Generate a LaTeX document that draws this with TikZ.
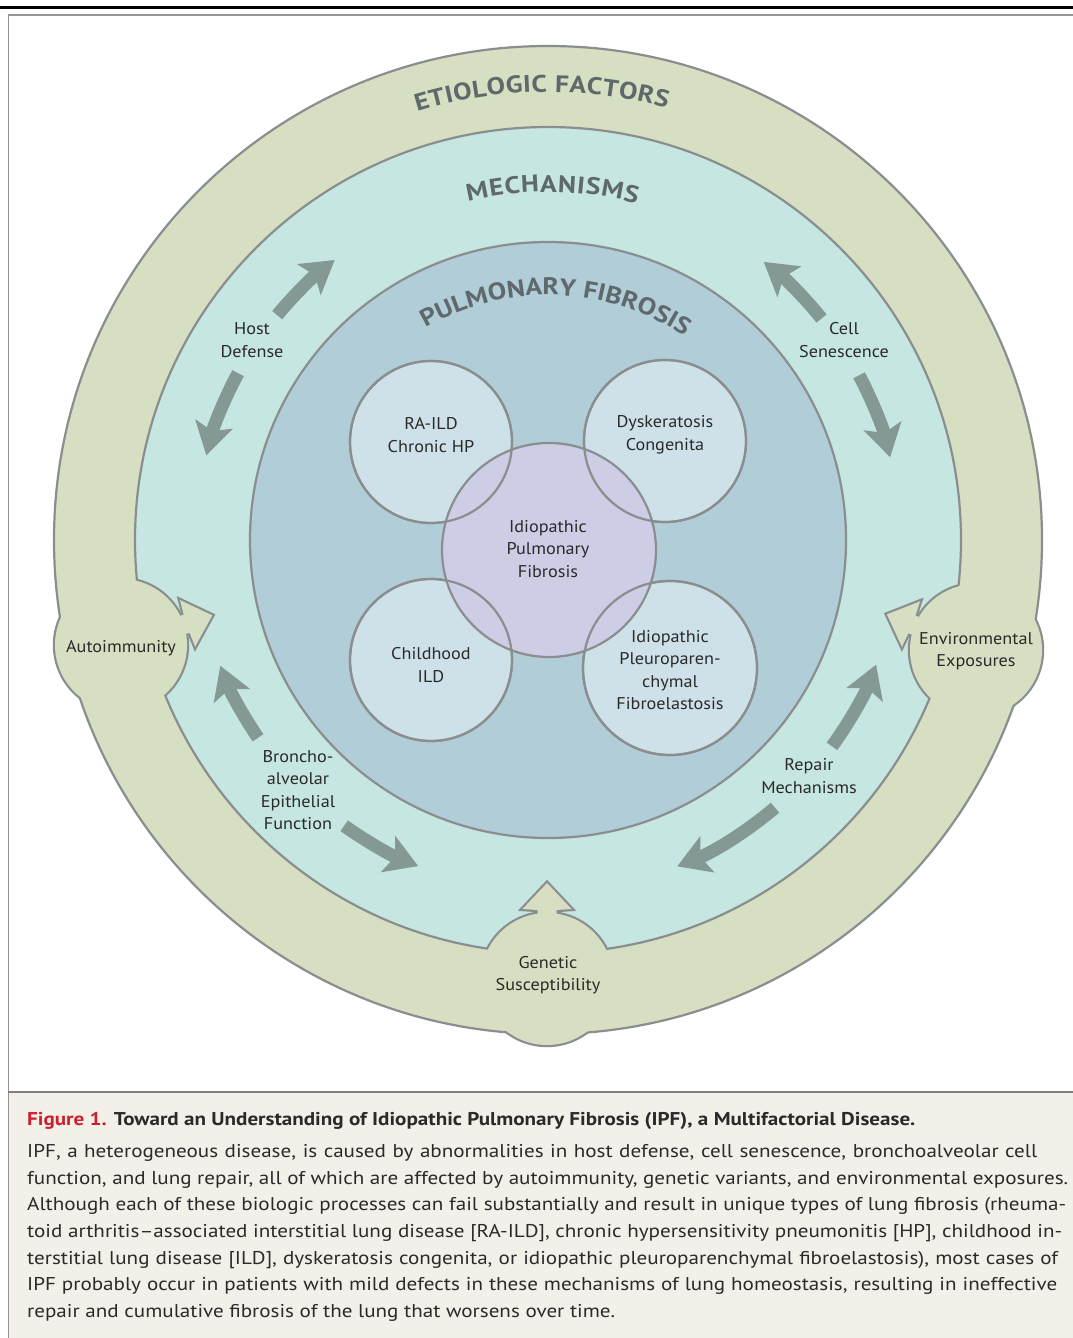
\documentclass[tikz,border=0pt]{standalone}
\usepackage{fontspec}
\setmainfont[FakeStretch=1.07]{PT Sans}
\newfontfamily\capfont[FakeStretch=1.14,Ligatures=TeX]{PT Sans}
\newfontfamily\hfam[FakeStretch=1.15]{PT Sans}
\usetikzlibrary{arrows.meta,decorations.text}
\definecolor{ringG}{HTML}{D6DFC1}
\definecolor{mechT}{HTML}{C6E6E1}
\definecolor{pfB}{HTML}{B1CDD8}
\definecolor{smallC}{HTML}{CFE1E8}
\definecolor{ipfC}{HTML}{CECDE6}
\definecolor{bordC}{HTML}{8A8E8F}
\definecolor{arrC}{HTML}{849994}
\definecolor{headC}{HTML}{5F696C}
\definecolor{txtC}{HTML}{2A2A2A}
\definecolor{capBG}{HTML}{F3F0E9}
\definecolor{figRed}{HTML}{CF1F2E}
\newcommand\headfont{\hfam\fontsize{24}{24}\selectfont\bfseries}
\newcommand\onebump[3]{%
  \begin{scope}[shift={(#1,#2)},rotate=#3]
    \path[bumpsty] (0,0) circle[radius=66pt];
    \path[bumpsty] (0,9.5) -- (69,9.5) -- (70,24.5) -- (96,0) -- (70,-24.5) -- (69,-9.5) -- (0,-9.5) -- cycle;
  \end{scope}}
\newcommand\allbumps{\onebump{121}{-645}{18}\onebump{976}{-650}{158.2}\onebump{547}{-979}{90}}
\begin{document}
\begin{tikzpicture}[x=1pt,y=1pt,
  lab/.style={font=\fontsize{17}{22.5}\selectfont, text=txtC, align=center, inner sep=0pt},
  curv/.style={line width=13pt, draw=arrC, -{Stealth[length=32pt,width=38pt,inset=7pt]}},
  bordline/.style={draw=bordC, line width=2.2pt},
  capline/.style={anchor=base west, inner sep=0pt, font=\capfont\fontsize{18.5}{26}\selectfont, text=txtC},
  bumpsty/.style={}]
\useasboundingbox (0,0) rectangle (1073,-1338);
\fill[white] (0,0) rectangle (1073,-1338);
\coordinate (C) at (548,-540);
% frame and caption box
\fill[capBG] (9,-1093) rectangle (1073,-1338);
\draw[line width=3pt, black] (0,-8) -- (1073,-8);
\draw[line width=1.6pt, draw=gray!85] (8.5,-1338) -- (8.5,-15) -- (1073,-15);
\draw[line width=2pt, draw=gray] (8,-1092) -- (1073,-1092);
% bumps outer outline
\begin{scope}
  \tikzset{bumpsty/.style={draw=bordC, line width=4.4pt}}
  \allbumps
\end{scope}
% outer ring and mechanisms
\draw[bordline, fill=ringG] (C) circle[radius=494pt];
\draw[bordline, fill=mechT] (C) circle[radius=413pt];
\begin{scope}
  \clip (C) circle[radius=413pt];
  \tikzset{bumpsty/.style={draw=bordC, line width=4.4pt}}
  \allbumps
\end{scope}
\begin{scope}
  \tikzset{bumpsty/.style={fill=ringG}}
  \allbumps
\end{scope}
% pulmonary fibrosis
\draw[bordline, fill=pfB] (C) circle[radius=298pt];
% small circles
\coordinate (ra) at (431,-442);
\coordinate (dk) at (665,-441);
\coordinate (ch) at (431,-660);
\coordinate (pp) at (670,-668);
\coordinate (ipf) at (549,-550);
\foreach \c/\r in {ra/81,dk/81,ch/81,pp/87}
  \draw[bordline, fill=smallC] (\c) circle[radius=\r pt];
\fill[ipfC] (ipf) circle[radius=107pt];
\foreach \c/\r in {ra/81,dk/81,ch/81,pp/87}
  \draw[bordline] (\c) circle[radius=\r pt];
\draw[bordline] (ipf) circle[radius=107pt];
% curved arrows
\draw[curv] ([shift={(140.3:352pt)}]C) arc[start angle=140.3, end angle=127.3, radius=352pt];
\draw[curv] ([shift={(151.7:352pt)}]C) arc[start angle=151.7, end angle=166.1, radius=352pt];
\draw[curv] ([shift={(39:352pt)}]C) arc[start angle=39, end angle=52.2, radius=352pt];
\draw[curv] ([shift={(27.9:352pt)}]C) arc[start angle=27.9, end angle=13.6, radius=352pt];
\draw[curv] ([shift={(214.3:351pt)}]C) arc[start angle=214.3, end angle=201, radius=351pt];
\draw[curv] ([shift={(234.5:351pt)}]C) arc[start angle=234.5, end angle=248.3, radius=351pt];
\draw[curv] ([shift={(324:351pt)}]C) arc[start angle=324, end angle=339.2, radius=351pt];
\draw[curv] ([shift={(310.3:351pt)}]C) arc[start angle=310.3, end angle=291.6, radius=351pt];
% curved headings
\path[decorate, decoration={text along path, text={|\headfont|ETIOLOGIC FACTORS}, text align=fit to path, text color=headC}]
  ([shift={(107:448pt)}]C) arc[start angle=107, end angle=74.6, radius=448pt];
\path[decorate, decoration={text along path, text={|\headfont|MECHANISMS}, text align=fit to path, text color=headC}]
  ([shift={(103.3:348pt)}]C) arc[start angle=103.3, end angle=75.2, radius=348pt];
\path[decorate, decoration={text along path, text={|\headfont|PULMONARY FIBROSIS}, text align=fit to path, text color=headC}]
  ([shift={(120:245pt)}]C) arc[start angle=120, end angle=56.5, radius=245pt];
% labels
\node[lab] (hd) at (252,-340) {Host\\Defense};
\node[lab] (cs) at (844,-340) {Cell\\Senescence};
\node[lab] (be) at (298,-790) {Broncho-\\alveolar\\Epithelial\\Function};
\node[lab] (rm) at (809,-776) {Repair\\Mechanisms};
\node[lab] (ai) at (121,-648) {Autoimmunity};
\node[lab] (ee) at (976,-651) {Environmental\\Exposures};
\node[lab] (gs) at (548,-975) {Genetic\\Susceptibility};
\node[lab] (raild) at (431,-435) {RA-ILD\\Chronic HP};
\node[lab] (dkc) at (665,-435) {Dyskeratosis\\Congenita};
\node[lab] (ipft) at (548,-549) {Idiopathic\\Pulmonary\\Fibrosis};
\node[lab] (child) at (431,-665) {Childhood\\ILD};
\node[lab] (ippfe) at (670,-670) {Idiopathic\\Pleuroparen-\\chymal\\Fibroelastosis};
% caption
\node[capline, font=\capfont\fontsize{18.5}{26}\selectfont\bfseries] (title) at (27,-1125)
  {\textcolor{figRed}{Figure 1.} Toward an Understanding of Idiopathic Pulmonary Fibrosis (IPF), a Multifactorial Disease.};
\node[capline] (l1) at (27,-1157) {\makebox[1010pt][s]{IPF, a heterogeneous disease, is caused by abnormalities in host defense, cell senescence, bronchoalveolar cell}};
\node[capline] (l2) at (27,-1184) {\makebox[1041pt][s]{function, and lung repair, all of which are affected by autoimmunity, genetic variants, and environmental exposures.}};
\node[capline] (l3) at (27,-1210) {\makebox[1039pt][s]{Although each of these biologic processes can fail substantially and result in unique types of lung fibrosis (rheuma-}};
\node[capline] (l4) at (27,-1237) {\makebox[1035pt][s]{toid arthritis–associated interstitial lung disease [RA-ILD], chronic hypersensitivity pneumonitis [HP], childhood in-}};
\node[capline] (l5) at (27,-1264) {\makebox[1031pt][s]{terstitial lung disease [ILD], dyskeratosis congenita, or idiopathic pleuroparenchymal fibroelastosis), most cases of}};
\node[capline] (l6) at (27,-1290) {\makebox[1030pt][s]{IPF probably occur in patients with mild defects in these mechanisms of lung homeostasis, resulting in ineffective}};
\node[capline] (l7) at (27,-1317) {repair and cumulative fibrosis of the lung that worsens over time.};
\end{tikzpicture}
\end{document}
